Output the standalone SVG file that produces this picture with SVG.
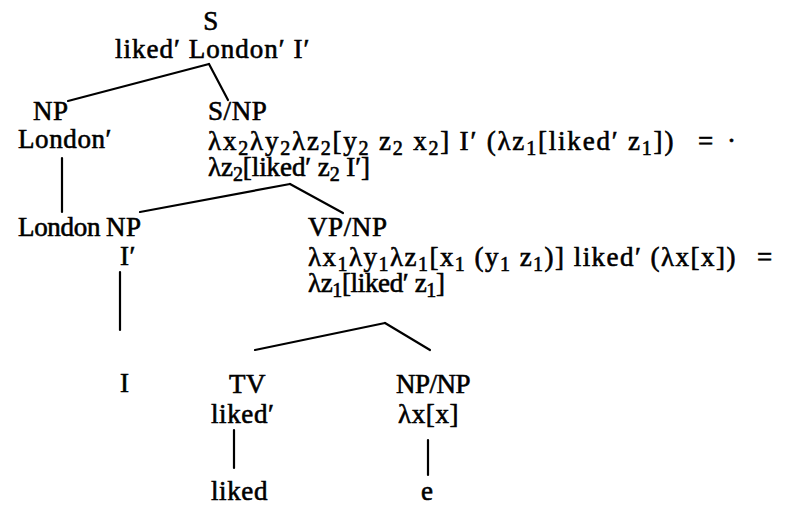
<svg xmlns="http://www.w3.org/2000/svg" width="789" height="526" viewBox="0 0 789 526">
  <style>
    text { font-family: "Liberation Serif", "Times New Roman", serif; font-size: 27px; letter-spacing: 0.6px; fill: #000; stroke: #000; stroke-width: 0.6px; }
    .sub { font-size: 20px; }
    .tight { letter-spacing: 0; }
    .edge { stroke: #000; stroke-width: 2.2; fill: none; stroke-linecap: round; }
  </style>
  <rect width="789" height="526" fill="#fff"/>

  <!-- tree edges -->
  <g id="connectors">
    <path class="edge" d="M209,64 L68,101"/>
    <path class="edge" d="M209,64 L228,100"/>
    <path class="edge" d="M62,158 L62,212"/>
    <path class="edge" d="M290,184 L140,212"/>
    <path class="edge" d="M290,184 L343,213"/>
    <path class="edge" d="M120,272 L120,330"/>
    <path class="edge" d="M385,323 L255,350"/>
    <path class="edge" d="M385,323 L430,350"/>
    <path class="edge" d="M234,430 L234,468"/>
    <path class="edge" d="M428,440 L428,475"/>
  </g>

  <g id="node-s">
    <text x="211" y="30" text-anchor="middle">S</text>
    <text x="115" y="58" textLength="195" lengthAdjust="spacing">liked′ London′ I′</text>
  </g>

  <g id="node-np">
    <text x="33" y="120">NP</text>
    <text x="18" y="148">London′</text>
  </g>

  <g id="node-london">
    <text x="18" y="236" textLength="83" lengthAdjust="spacing">London</text>
  </g>

  <g id="node-snp">
    <text x="208" y="120">S/NP</text>
    <text x="208" y="150" textLength="466" lengthAdjust="spacing">λx<tspan class="sub" dy="5">2</tspan><tspan dy="-5">λy</tspan><tspan class="sub" dy="5">2</tspan><tspan dy="-5">λz</tspan><tspan class="sub" dy="5">2</tspan><tspan dy="-5">[y</tspan><tspan class="sub" dy="5">2</tspan><tspan dy="-5"> z</tspan><tspan class="sub" dy="5">2</tspan><tspan dy="-5"> x</tspan><tspan class="sub" dy="5">2</tspan><tspan dy="-5">] I′ (λz</tspan><tspan class="sub" dy="5">1</tspan><tspan dy="-5">[liked′ z</tspan><tspan class="sub" dy="5">1</tspan><tspan dy="-5">])</tspan></text>
    <text x="698" y="150">=</text>
    <text x="727" y="150">·</text>
    <text class="tight" x="208" y="176" textLength="162" lengthAdjust="spacing">λz<tspan class="sub" dy="5">2</tspan><tspan dy="-5">[liked′ z</tspan><tspan class="sub" dy="5">2</tspan><tspan dy="-5"> I′]</tspan></text>
  </g>

  <g id="node-np2">
    <text x="106" y="236">NP</text>
    <text x="120" y="265">I′</text>
  </g>

  <g id="node-i">
    <text x="120" y="392">I</text>
  </g>

  <g id="node-vpnp">
    <text x="308" y="236">VP/NP</text>
    <text x="308" y="266" textLength="428" lengthAdjust="spacing">λx<tspan class="sub" dy="5">1</tspan><tspan dy="-5">λy</tspan><tspan class="sub" dy="5">1</tspan><tspan dy="-5">λz</tspan><tspan class="sub" dy="5">1</tspan><tspan dy="-5">[x</tspan><tspan class="sub" dy="5">1</tspan><tspan dy="-5">  (y</tspan><tspan class="sub" dy="5">1</tspan><tspan dy="-5">  z</tspan><tspan class="sub" dy="5">1</tspan><tspan dy="-5">)] liked′ (λx[x])</tspan></text>
    <text x="757" y="266">=</text>
    <text class="tight" x="308" y="292" textLength="137" lengthAdjust="spacing">λz<tspan class="sub" dy="5">1</tspan><tspan dy="-5">[liked′ z</tspan><tspan class="sub" dy="5">1</tspan><tspan dy="-5">]</tspan></text>
  </g>

  <g id="node-tv">
    <text x="229" y="393">TV</text>
    <text x="211" y="423">liked′</text>
  </g>

  <g id="node-liked">
    <text x="211" y="500">liked</text>
  </g>

  <g id="node-npnp">
    <text x="396" y="393" textLength="75" lengthAdjust="spacing">NP/NP</text>
    <text x="398" y="423">λx[x]</text>
  </g>

  <g id="node-e">
    <text x="421" y="500">e</text>
  </g>
</svg>
